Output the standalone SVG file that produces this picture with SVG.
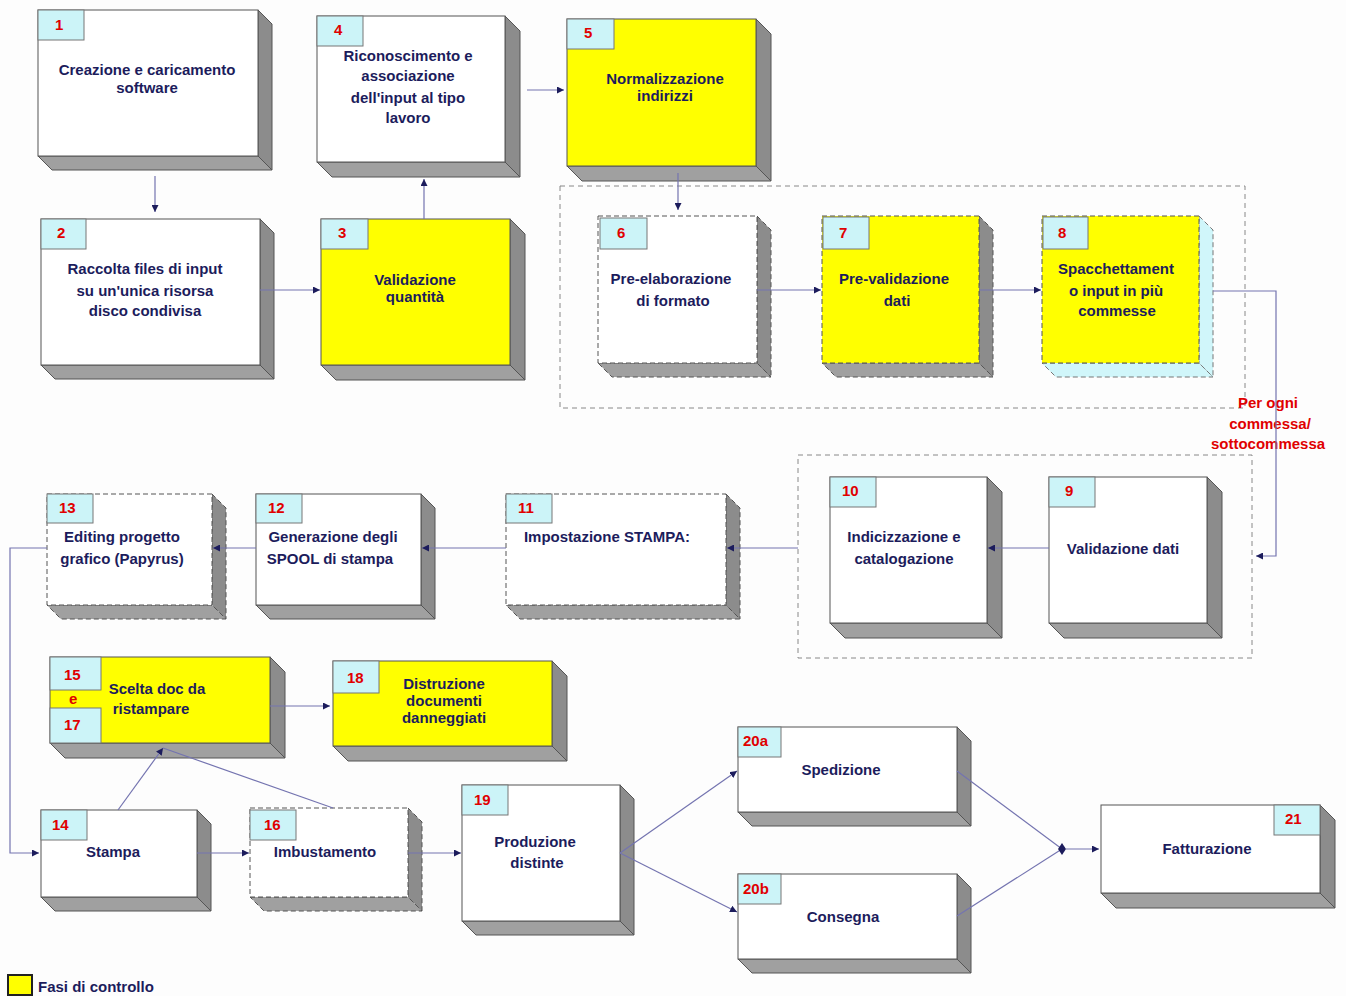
<svg xmlns="http://www.w3.org/2000/svg" width="1346" height="996" viewBox="0 0 1346 996">
<defs>
<style>
.f{fill:#fff;stroke:#555;stroke-width:1}
.y{fill:#ffff00;stroke:#555;stroke-width:1}
.s{fill:#8c8c8c;stroke:#555;stroke-width:1}
.b{fill:#a0a0a0;stroke:#555;stroke-width:1}
.c{fill:#d0f6fa;stroke:#777;stroke-width:1}
.d{stroke-dasharray:5 3}
.bd{fill:#ccf4f8;stroke:#777;stroke-width:1}
.n{font-family:"Liberation Sans",Arial,sans-serif;font-weight:bold;font-size:15px;fill:#e00000}
.t{font-family:"Liberation Sans",Arial,sans-serif;font-weight:bold;font-size:15px;fill:#1c1c5c;text-anchor:middle}
.r{font-family:"Liberation Sans",Arial,sans-serif;font-weight:bold;font-size:15px;fill:#e00000;text-anchor:middle}
.g{fill:none;stroke:#888;stroke-width:1;stroke-dasharray:5 4}
.k{fill:none;stroke:#7474b0;stroke-width:1.2}
</style>
<marker id="a" viewBox="0 0 10 10" refX="10" refY="5" markerWidth="7" markerHeight="7" orient="auto-start-reverse" markerUnits="userSpaceOnUse">
<path d="M0,0 L10,5 L0,10 z" fill="#1c1c5c"/>
</marker>
</defs>
<rect width="1346" height="996" fill="#fdfdfd"/>

<!-- group boxes -->
<rect class="g" x="560" y="186" width="685" height="222"/>
<rect class="g" x="798" y="455" width="454" height="203"/>

<g id="n1">
<polygon class="s" points="258,10 272,24 272,170 258,156"/>
<polygon class="b" points="38,156 258,156 272,170 52,170"/>
<rect class="f" x="38" y="10" width="220" height="146"/>
<rect class="bd" x="38" y="10" width="46" height="30"/>
<text class="n" x="55" y="30">1</text>
<text class="t" x="147" y="75">Creazione e caricamento</text>
<text class="t" x="147" y="93">software</text>
</g>

<g id="n2">
<polygon class="s" points="260,219 274,233 274,379 260,365"/>
<polygon class="b" points="41,365 260,365 274,379 55,379"/>
<rect class="f" x="41" y="219" width="219" height="146"/>
<rect class="bd" x="41" y="219" width="45" height="30"/>
<text class="n" x="57" y="238">2</text>
<text class="t" x="145" y="274">Raccolta files di input</text>
<text class="t" x="145" y="296">su un'unica risorsa</text>
<text class="t" x="145" y="316">disco condivisa</text>
</g>

<g id="n3">
<polygon class="s" points="510,219 525,234 525,380 510,365"/>
<polygon class="b" points="321,365 510,365 525,380 336,380"/>
<rect class="y" x="321" y="219" width="189" height="146"/>
<rect class="bd" x="321" y="219" width="47" height="30"/>
<text class="n" x="338" y="238">3</text>
<text class="t" x="415" y="285">Validazione</text>
<text class="t" x="415" y="302">quantità</text>
</g>

<g id="n4">
<polygon class="s" points="505,16 520,31 520,177 505,162"/>
<polygon class="b" points="317,162 505,162 520,177 332,177"/>
<rect class="f" x="317" y="16" width="188" height="146"/>
<rect class="bd" x="317" y="16" width="46" height="30"/>
<text class="n" x="334" y="35">4</text>
<text class="t" x="408" y="61">Riconoscimento e</text>
<text class="t" x="408" y="81">associazione</text>
<text class="t" x="408" y="103">dell'input al tipo</text>
<text class="t" x="408" y="123">lavoro</text>
</g>

<g id="n5">
<polygon class="s" points="756,19 771,34 771,181 756,166"/>
<polygon class="b" points="567,166 756,166 771,181 582,181"/>
<rect class="y" x="567" y="19" width="189" height="147"/>
<rect class="bd" x="567" y="19" width="47" height="30"/>
<text class="n" x="584" y="38">5</text>
<text class="t" x="665" y="84">Normalizzazione</text>
<text class="t" x="665" y="101">indirizzi</text>
</g>

<g id="n6">
<polygon class="s d" points="757,216 771,230 771,377 757,363"/>
<polygon class="b d" points="598,363 757,363 771,377 612,377"/>
<rect class="f d" x="598" y="216" width="159" height="147"/>
<rect class="bd" x="600" y="218" width="47" height="31"/>
<text class="n" x="617" y="238">6</text>
<text class="t" x="671" y="284">Pre-elaborazione</text>
<text class="t" x="673" y="306">di formato</text>
</g>

<g id="n7">
<polygon class="s d" points="979,216 993,230 993,377 979,363"/>
<polygon class="b d" points="822,363 979,363 993,377 836,377"/>
<rect class="y d" x="822" y="216" width="157" height="147"/>
<rect class="bd" x="823" y="217" width="46" height="32"/>
<text class="n" x="839" y="238">7</text>
<text class="t" x="894" y="284">Pre-validazione</text>
<text class="t" x="897" y="306">dati</text>
</g>

<g id="n8">
<polygon class="c d" points="1199,216 1213,230 1213,377 1199,363"/>
<polygon class="c d" points="1042,363 1199,363 1213,377 1056,377"/>
<rect class="y d" x="1042" y="216" width="157" height="147"/>
<rect class="bd" x="1043" y="217" width="45" height="32"/>
<text class="n" x="1058" y="238">8</text>
<text class="t" x="1116" y="274">Spacchettament</text>
<text class="t" x="1116" y="296">o input in più</text>
<text class="t" x="1117" y="316">commesse</text>
</g>

<g id="note">
<text class="r" x="1268" y="408">Per ogni</text>
<text class="r" x="1270" y="429">commessa/</text>
<text class="r" x="1268" y="449">sottocommessa</text>
</g>

<g id="n9">
<polygon class="s" points="1207,477 1222,492 1222,638 1207,623"/>
<polygon class="b" points="1049,623 1207,623 1222,638 1064,638"/>
<rect class="f" x="1049" y="477" width="158" height="146"/>
<rect class="bd" x="1049" y="477" width="46" height="30"/>
<text class="n" x="1065" y="496">9</text>
<text class="t" x="1123" y="554">Validazione dati</text>
</g>

<g id="n10">
<polygon class="s" points="987,477 1002,492 1002,638 987,623"/>
<polygon class="b" points="830,623 987,623 1002,638 845,638"/>
<rect class="f" x="830" y="477" width="157" height="146"/>
<rect class="bd" x="830" y="477" width="46" height="30"/>
<text class="n" x="842" y="496">10</text>
<text class="t" x="904" y="542">Indicizzazione e</text>
<text class="t" x="904" y="564">catalogazione</text>
</g>

<g id="n11">
<polygon class="s d" points="726,494 740,508 740,619 726,605"/>
<polygon class="b d" points="506,605 726,605 740,619 520,619"/>
<rect class="f d" x="506" y="494" width="220" height="111"/>
<rect class="bd" x="506" y="494" width="46" height="29"/>
<text class="n" x="518" y="513">11</text>
<text class="t" x="607" y="542">Impostazione STAMPA:</text>
</g>

<g id="n12">
<polygon class="s" points="421,494 435,508 435,619 421,605"/>
<polygon class="b" points="256,605 421,605 435,619 270,619"/>
<rect class="f" x="256" y="494" width="165" height="111"/>
<rect class="bd" x="256" y="494" width="46" height="29"/>
<text class="n" x="268" y="513">12</text>
<text class="t" x="333" y="542">Generazione degli</text>
<text class="t" x="330" y="564">SPOOL di stampa</text>
</g>

<g id="n13">
<polygon class="s d" points="212,494 226,508 226,619 212,605"/>
<polygon class="b d" points="47,605 212,605 226,619 61,619"/>
<rect class="f d" x="47" y="494" width="165" height="111"/>
<rect class="bd" x="47" y="494" width="46" height="29"/>
<text class="n" x="59" y="513">13</text>
<text class="t" x="122" y="542">Editing progetto</text>
<text class="t" x="122" y="564">grafico (Papyrus)</text>
</g>

<g id="n15">
<polygon class="s" points="270,657 285,672 285,758 270,743"/>
<polygon class="b" points="50,743 270,743 285,758 65,758"/>
<rect class="y" x="50" y="657" width="220" height="86"/>
<rect class="bd" x="50" y="657" width="51" height="33"/>
<text class="n" x="64" y="680">15</text>
<text class="n" x="69" y="704">e</text>
<rect class="bd" x="50" y="708" width="51" height="35"/>
<text class="n" x="64" y="730">17</text>
<text class="t" x="157" y="694">Scelta doc da</text>
<text class="t" x="151" y="714">ristampare</text>
</g>

<g id="n18">
<polygon class="s" points="552,661 567,676 567,761 552,746"/>
<polygon class="b" points="333,746 552,746 567,761 348,761"/>
<rect class="y" x="333" y="661" width="219" height="85"/>
<rect class="bd" x="333" y="661" width="46" height="32"/>
<text class="n" x="347" y="683">18</text>
<text class="t" x="444" y="689">Distruzione</text>
<text class="t" x="444" y="706">documenti</text>
<text class="t" x="444" y="723">danneggiati</text>
</g>

<g id="n14">
<polygon class="s" points="197,810 211,824 211,911 197,897"/>
<polygon class="b" points="41,897 197,897 211,911 55,911"/>
<rect class="f" x="41" y="810" width="156" height="87"/>
<rect class="bd" x="41" y="810" width="46" height="30"/>
<text class="n" x="52" y="830">14</text>
<text class="t" x="113" y="857">Stampa</text>
</g>

<g id="n16">
<polygon class="s d" points="408,808 422,822 422,911 408,897"/>
<polygon class="b d" points="250,897 408,897 422,911 264,911"/>
<rect class="f d" x="250" y="808" width="158" height="89"/>
<rect class="bd" x="250" y="810" width="46" height="30"/>
<text class="n" x="264" y="830">16</text>
<text class="t" x="325" y="857">Imbustamento</text>
</g>

<g id="n19">
<polygon class="s" points="620,785 634,799 634,935 620,921"/>
<polygon class="b" points="462,921 620,921 634,935 476,935"/>
<rect class="f" x="462" y="785" width="158" height="136"/>
<rect class="bd" x="462" y="785" width="46" height="30"/>
<text class="n" x="474" y="805">19</text>
<text class="t" x="535" y="847">Produzione</text>
<text class="t" x="537" y="868">distinte</text>
</g>

<g id="n20a">
<polygon class="s" points="957,727 971,741 971,826 957,812"/>
<polygon class="b" points="738,812 957,812 971,826 752,826"/>
<rect class="f" x="738" y="727" width="219" height="85"/>
<rect class="bd" x="738" y="727" width="43" height="30"/>
<text class="n" x="743" y="746">20a</text>
<text class="t" x="841" y="775">Spedizione</text>
</g>

<g id="n20b">
<polygon class="s" points="957,874 971,888 971,973 957,959"/>
<polygon class="b" points="738,959 957,959 971,973 752,973"/>
<rect class="f" x="738" y="874" width="219" height="85"/>
<rect class="bd" x="738" y="874" width="43" height="30"/>
<text class="n" x="743" y="894">20b</text>
<text class="t" x="843" y="922">Consegna</text>
</g>

<g id="n21">
<polygon class="s" points="1320,805 1335,820 1335,908 1320,893"/>
<polygon class="b" points="1101,893 1320,893 1335,908 1116,908"/>
<rect class="f" x="1101" y="805" width="219" height="88"/>
<rect class="bd" x="1274" y="805" width="46" height="30"/>
<text class="n" x="1285" y="824">21</text>
<text class="t" x="1207" y="854">Fatturazione</text>
</g>

<!-- connectors -->
<g id="connectors">
<path class="k" d="M155,176 V212" marker-end="url(#a)"/>
<path class="k" d="M260,290 H320" marker-end="url(#a)"/>
<path class="k" d="M424,219 V179" marker-end="url(#a)"/>
<path class="k" d="M527,90 H564" marker-end="url(#a)"/>
<path class="k" d="M678,173 V210" marker-end="url(#a)"/>
<path class="k" d="M757,290 H821" marker-end="url(#a)"/>
<path class="k" d="M979,290 H1041" marker-end="url(#a)"/>
<path class="k" d="M1213,291 H1276 V556 H1256" marker-end="url(#a)"/>
<path class="k" d="M1049,548 H988" marker-end="url(#a)"/>
<path class="k" d="M798,548 H727" marker-end="url(#a)"/>
<path class="k" d="M506,548 H422" marker-end="url(#a)"/>
<path class="k" d="M256,548 H213" marker-end="url(#a)"/>
<path class="k" d="M47,548 H10 V853 H39" marker-end="url(#a)"/>
<path class="k" d="M197,853 H249" marker-end="url(#a)"/>
<path class="k" d="M408,853 H461" marker-end="url(#a)"/>
<path class="k" d="M270,706 H330" marker-end="url(#a)"/>
<path class="k" d="M118,810 L163,748" marker-end="url(#a)"/>
<path class="k" d="M333,808 L163,748"/>
<path class="k" d="M620,853 L737,771" marker-end="url(#a)"/>
<path class="k" d="M620,853 L737,912" marker-end="url(#a)"/>
<path class="k" d="M957,771 L1062,849"/>
<path class="k" d="M957,916 L1062,849"/>
<path d="M1062,843 L1066,849 L1062,855 L1058,849 z" fill="#1c1c5c"/>
<path class="k" d="M1066,849 H1099" marker-end="url(#a)"/>
</g>

<g id="legend">
<rect x="8" y="975" width="24" height="20" fill="#ffff00" stroke="#222" stroke-width="2"/>
<text x="38" y="992" font-family="Liberation Sans,Arial,sans-serif" font-weight="bold" font-size="15" fill="#1c1c5c">Fasi di controllo</text>
</g>
</svg>
